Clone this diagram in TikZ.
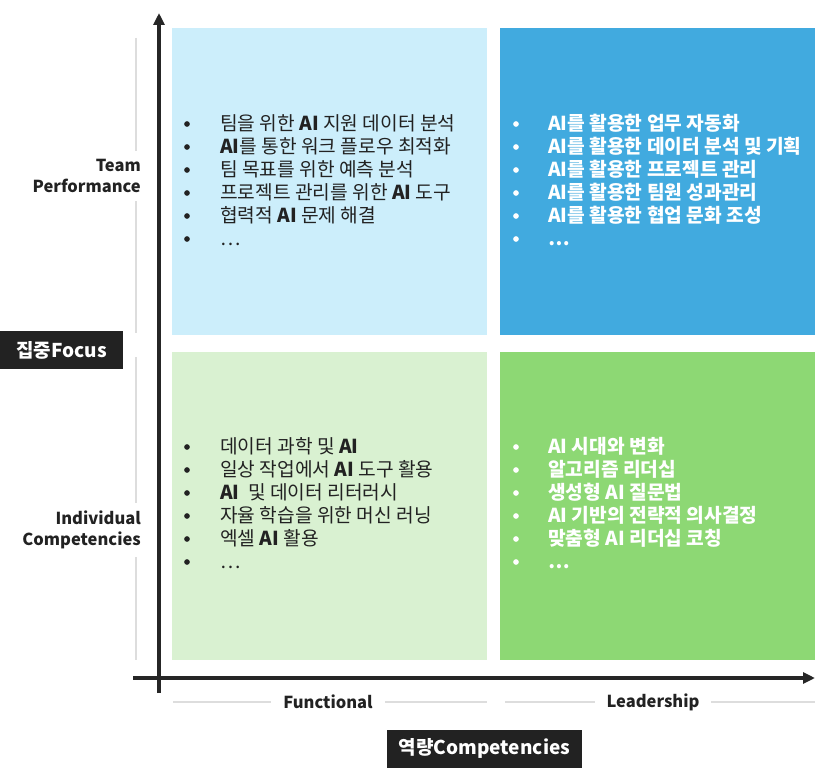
\documentclass[tikz,border=0pt]{standalone}
\usepackage{fontspec}
\setmainfont{Noto Sans CJK KR}
\usetikzlibrary{arrows.meta,positioning}
\definecolor{teamlight}{HTML}{CCEEFB}
\definecolor{teamdark}{HTML}{41AADF}
\definecolor{indlight}{HTML}{D9F1D1}
\definecolor{inddark}{HTML}{8DD874}
\definecolor{axisgray}{HTML}{262626}
\definecolor{guidegray}{HTML}{DDDDDD}
\definecolor{textdark}{HTML}{222222}
\tikzset{
  axis/.style={-{Triangle[length=12pt,width=11pt]}, line width=3.5pt, draw=axisgray},
  guide/.style={line width=1.2pt, draw=guidegray},
  quad/.style={minimum width=315pt, minimum height=307pt, inner sep=0pt, anchor=north west},
  dot/.style={circle, fill, inner sep=2pt},
  item/.style={anchor=base west, inner sep=0pt, font=\fontsize{19.2}{21}\selectfont#1},
  item/.default={},
  tag/.style={fill=white, text=textdark, align=right, inner xsep=0pt, inner ysep=8pt,
    font=\bfseries\fontsize{16.5}{21}\selectfont},
  title box/.style={fill=textdark, text=white, inner sep=0pt, minimum height=38pt,
    font=\bfseries\fontsize{19}{22}\selectfont},
}

\begin{document}
\begin{tikzpicture}[x=1pt, y=-1pt]
  \useasboundingbox (0,0) rectangle (828,776);

  % Quadrants
  \node[quad, fill=teamlight] (tf) at (172,28) {};
  \node[quad, fill=teamdark] (tl) at (500,28) {};
  \node[quad, fill=indlight, minimum height=308pt] (if) at (172,352) {};
  \node[quad, fill=inddark, minimum height=308pt] (il) at (500,352) {};

  % Team / functional
  \foreach \t [count=\i from 0] in {팀을 위한 \textbf{AI} 지원 데이터 분석,
      \textbf{AI}를 통한 워크 플로우 최적화, 팀 목표를 위한 예측 분석,
      프로젝트 관리를 위한 \textbf{AI} 도구, 협력적 \textbf{AI} 문제 해결, …}{
    \node[dot, textdark] at (187,124+23*\i) {};
    \node[item, text=textdark] at (220,130.5+23*\i) {\t};
  }

  % Team / leadership
  \foreach \t [count=\i from 0] in {AI를 활용한 업무 자동화,
      AI를 활용한 데이터 분석 및 기획, AI를 활용한 프로젝트 관리,
      AI를 활용한 팀원 성과관리, AI를 활용한 협업 문화 조성, …}{
    \node[dot, white] at (516,124+23*\i) {};
    \node[item=\bfseries, text=white] at (548,130.5+23*\i) {\t};
  }

  % Individual / functional
  \foreach \t [count=\i from 0] in {데이터 과학 및 \textbf{AI},
      일상 작업에서 \textbf{AI} 도구 활용, \textbf{AI}\ \ 및 데이터 리터러시,
      자율 학습을 위한 머신 러닝, 엑셀 \textbf{AI} 활용, …}{
    \node[dot, textdark] at (187,447+23*\i) {};
    \node[item, text=textdark] at (220,453.5+23*\i) {\t};
  }

  % Individual / leadership
  \foreach \t [count=\i from 0] in {AI 시대와 변화, 알고리즘 리더십,
      생성형 AI 질문법, AI 기반의 전략적 의사결정, 맞춤형 AI 리더십 코칭, …}{
    \node[dot, white] at (516,447+23*\i) {};
    \node[item=\bfseries, text=white] at (548,453.5+23*\i) {\t};
  }

  % Axes
  \draw[axis] (159,693) -- (159,13);
  \draw[axis] (133,678) -- (815,678);

  % Row labels
  \draw[guide] (136,38) -- (136,333);
  \node[tag, anchor=east] (team) at (141,176) {Team\\Performance};
  \draw[guide] (136,357) -- (136,660);
  \node[tag, anchor=east] (indiv) at (141,530) {Individual\\Competencies};
  \node[title box, anchor=north west, minimum width=123pt] (focus) at (0,331) {집중Focus};

  % Column labels
  \draw[guide] (173,702) -- (487,702);
  \node[tag, inner xsep=12pt] (func) at (328,702) {Functional};
  \draw[guide] (505,702) -- (815,702);
  \node[tag, inner xsep=12pt] (lead) at (653,702) {Leadership};
  \node[title box, minimum width=195pt] (comp) at (484.5,748.5) {역량Competencies};
\end{tikzpicture}
\end{document}
